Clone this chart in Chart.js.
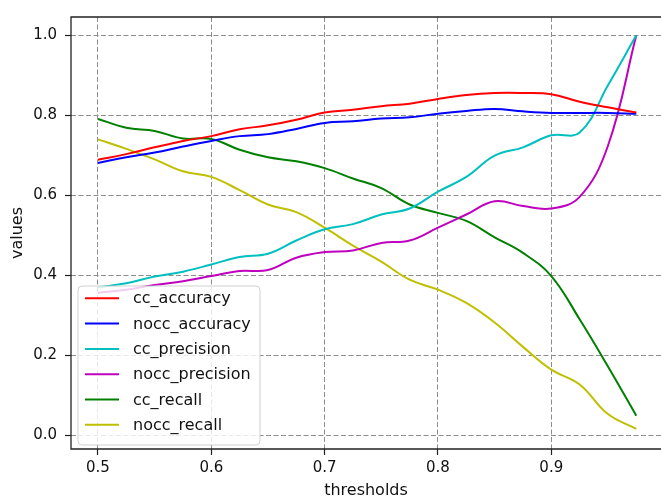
<!DOCTYPE html>
<html>
<head>
<meta charset="utf-8">
<title>thresholds</title>
<script src="https://cdn.jsdelivr.net/npm/chart.js@4.4.0/dist/chart.umd.min.js"></script>
<style>
    html, body { margin: 0; padding: 0; background: #fff; }
    #wrap { width: 661px; height: 497px; position: relative; }
</style>
</head>
<body>
<div id="wrap"><canvas id="thresholdChart"></canvas></div>
<script>
// threshold values on the x axis
const thresholds = [0.5, 0.525, 0.55, 0.575, 0.6, 0.625, 0.65, 0.675, 0.7, 0.725,
                    0.75, 0.775, 0.8, 0.825, 0.85, 0.875, 0.9, 0.925, 0.95, 0.975];

// series
const ccAccuracy     = [0.689, 0.703, 0.720, 0.736, 0.748, 0.765, 0.775, 0.789, 0.807, 0.814,
                        0.823, 0.829, 0.841, 0.851, 0.856, 0.856, 0.853, 0.834, 0.820, 0.807];
const noccAccuracy   = [0.681, 0.695, 0.707, 0.722, 0.736, 0.748, 0.753, 0.766, 0.781, 0.785,
                        0.792, 0.795, 0.804, 0.811, 0.816, 0.810, 0.806, 0.806, 0.806, 0.804];
const ccPrecision    = [0.370, 0.380, 0.397, 0.409, 0.427, 0.446, 0.454, 0.487, 0.515, 0.528,
                        0.552, 0.567, 0.609, 0.646, 0.699, 0.720, 0.750, 0.757, 0.875, 1.000];
const noccPrecision  = [0.356, 0.364, 0.376, 0.385, 0.398, 0.411, 0.413, 0.444, 0.458, 0.462,
                        0.481, 0.487, 0.519, 0.552, 0.585, 0.573, 0.567, 0.596, 0.724, 1.000];
const ccRecall       = [0.791, 0.769, 0.761, 0.742, 0.741, 0.714, 0.695, 0.685, 0.668, 0.642,
                        0.618, 0.577, 0.556, 0.536, 0.495, 0.456, 0.398, 0.290, 0.172, 0.049];
const noccRecall     = [0.740, 0.716, 0.690, 0.660, 0.646, 0.613, 0.577, 0.558, 0.519, 0.474,
                        0.434, 0.389, 0.364, 0.331, 0.282, 0.221, 0.164, 0.127, 0.053, 0.016];

const xTicks = [0.5, 0.6, 0.7, 0.8, 0.9];
const yTicks = [0.0, 0.2, 0.4, 0.6, 0.8, 1.0];

const FONT = '"DejaVu Sans", "Liberation Sans", sans-serif';

function makeSeries(label, values, color) {
    return {
        label: label,
        data: values.map((v, i) => ({ x: thresholds[i], y: v })),
        borderColor: color,
        backgroundColor: color,
        borderWidth: 2,
        pointRadius: 0,
        tension: 0.4,
        fill: false
    };
}

// matplotlib style frame (top, left, bottom spines)
const frameLines = {
    id: 'frameLines',
    afterDatasetsDraw(chart) {
        const { ctx, chartArea: a } = chart;
        ctx.save();
        ctx.strokeStyle = '#222';
        ctx.lineWidth = 1.3;
        ctx.beginPath();
        ctx.moveTo(a.right + 2, a.top);
        ctx.lineTo(a.left, a.top);
        ctx.lineTo(a.left, a.bottom);
        ctx.lineTo(a.right + 2, a.bottom);
        ctx.stroke();
        ctx.restore();
    }
};

// legend box in the lower left corner
const legendBox = {
    id: 'legendBox',
    afterDraw(chart) {
        const { ctx, chartArea: a } = chart;
        const sets = chart.data.datasets;
        const rowH = 25.3;
        const w = 182, h = 159;
        const x0 = a.left + 7;
        const y0 = a.bottom - 4 - h;

        ctx.save();
        ctx.fillStyle = 'rgba(255,255,255,0.8)';
        ctx.strokeStyle = 'rgba(204,204,204,0.9)';
        ctx.lineWidth = 1;
        ctx.beginPath();
        ctx.roundRect(x0, y0, w, h, 4);
        ctx.fill();
        ctx.stroke();

        ctx.font = '16px ' + FONT;
        ctx.textBaseline = 'middle';
        ctx.textAlign = 'left';
        sets.forEach((ds, i) => {
            const cy = y0 + 12.3 + i * rowH;
            ctx.strokeStyle = ds.borderColor;
            ctx.lineWidth = 2;
            ctx.beginPath();
            ctx.moveTo(x0 + 7, cy);
            ctx.lineTo(x0 + 41, cy);
            ctx.stroke();
            ctx.fillStyle = '#111';
            ctx.fillText(ds.label, x0 + 55, cy + 1);
        });
        ctx.restore();
    }
};

const ctx = document.getElementById('thresholdChart').getContext('2d');
window.thresholdChart = new Chart(ctx, {
    type: 'line',
    data: {
        datasets: [
            makeSeries('cc_accuracy', ccAccuracy, '#ff0000'),
            makeSeries('nocc_accuracy', noccAccuracy, '#0000ff'),
            makeSeries('cc_precision', ccPrecision, '#00bfbf'),
            makeSeries('nocc_precision', noccPrecision, '#bf00bf'),
            makeSeries('cc_recall', ccRecall, '#008000'),
            makeSeries('nocc_recall', noccRecall, '#bfbf00')
        ]
    },
    options: {
        responsive: true,
        maintainAspectRatio: false,
        animation: false,
        layout: {
            padding: { top: 9, left: 0, right: 0, bottom: 0 }
        },
        plugins: {
            legend: { display: false },
            tooltip: { enabled: false }
        },
        scales: {
            x: {
                type: 'linear',
                min: 0.4762,
                max: 0.9968,
                afterBuildTicks: axis => { axis.ticks = xTicks.map(v => ({ value: v })); },
                afterFit: axis => { axis.height = 48; },
                border: { display: false, dash: [5, 2.5] },
                grid: {
                    color: '#8c8c8c',
                    lineWidth: 1,
                    tickLength: 6,
                    tickColor: '#222',
                    tickWidth: 1.2,
                    tickBorderDash: []
                },
                ticks: {
                    color: '#111',
                    padding: 4,
                    maxRotation: 0,
                    font: { family: FONT, size: 15 },
                    callback: v => v.toFixed(1)
                },
                title: {
                    display: true,
                    text: 'thresholds',
                    color: '#111',
                    padding: { top: 0, bottom: -3 },
                    font: { family: FONT, size: 16 }
                }
            },
            y: {
                type: 'linear',
                min: -0.0344,
                max: 1.0459,
                afterBuildTicks: axis => { axis.ticks = yTicks.map(v => ({ value: v })); },
                afterFit: axis => { axis.width = 71; },
                border: { display: false, dash: [5, 2.5] },
                grid: {
                    color: '#8c8c8c',
                    lineWidth: 1,
                    tickLength: 6,
                    tickColor: '#222',
                    tickWidth: 1.2,
                    tickBorderDash: []
                },
                ticks: {
                    color: '#111',
                    padding: 8,
                    font: { family: FONT, size: 15 },
                    callback: v => v.toFixed(1)
                },
                title: {
                    display: true,
                    text: 'values',
                    color: '#111',
                    padding: { top: 8, bottom: 0 },
                    font: { family: FONT, size: 16 }
                }
            }
        }
    },
    plugins: [frameLines, legendBox]
});
</script>
</body>
</html>
